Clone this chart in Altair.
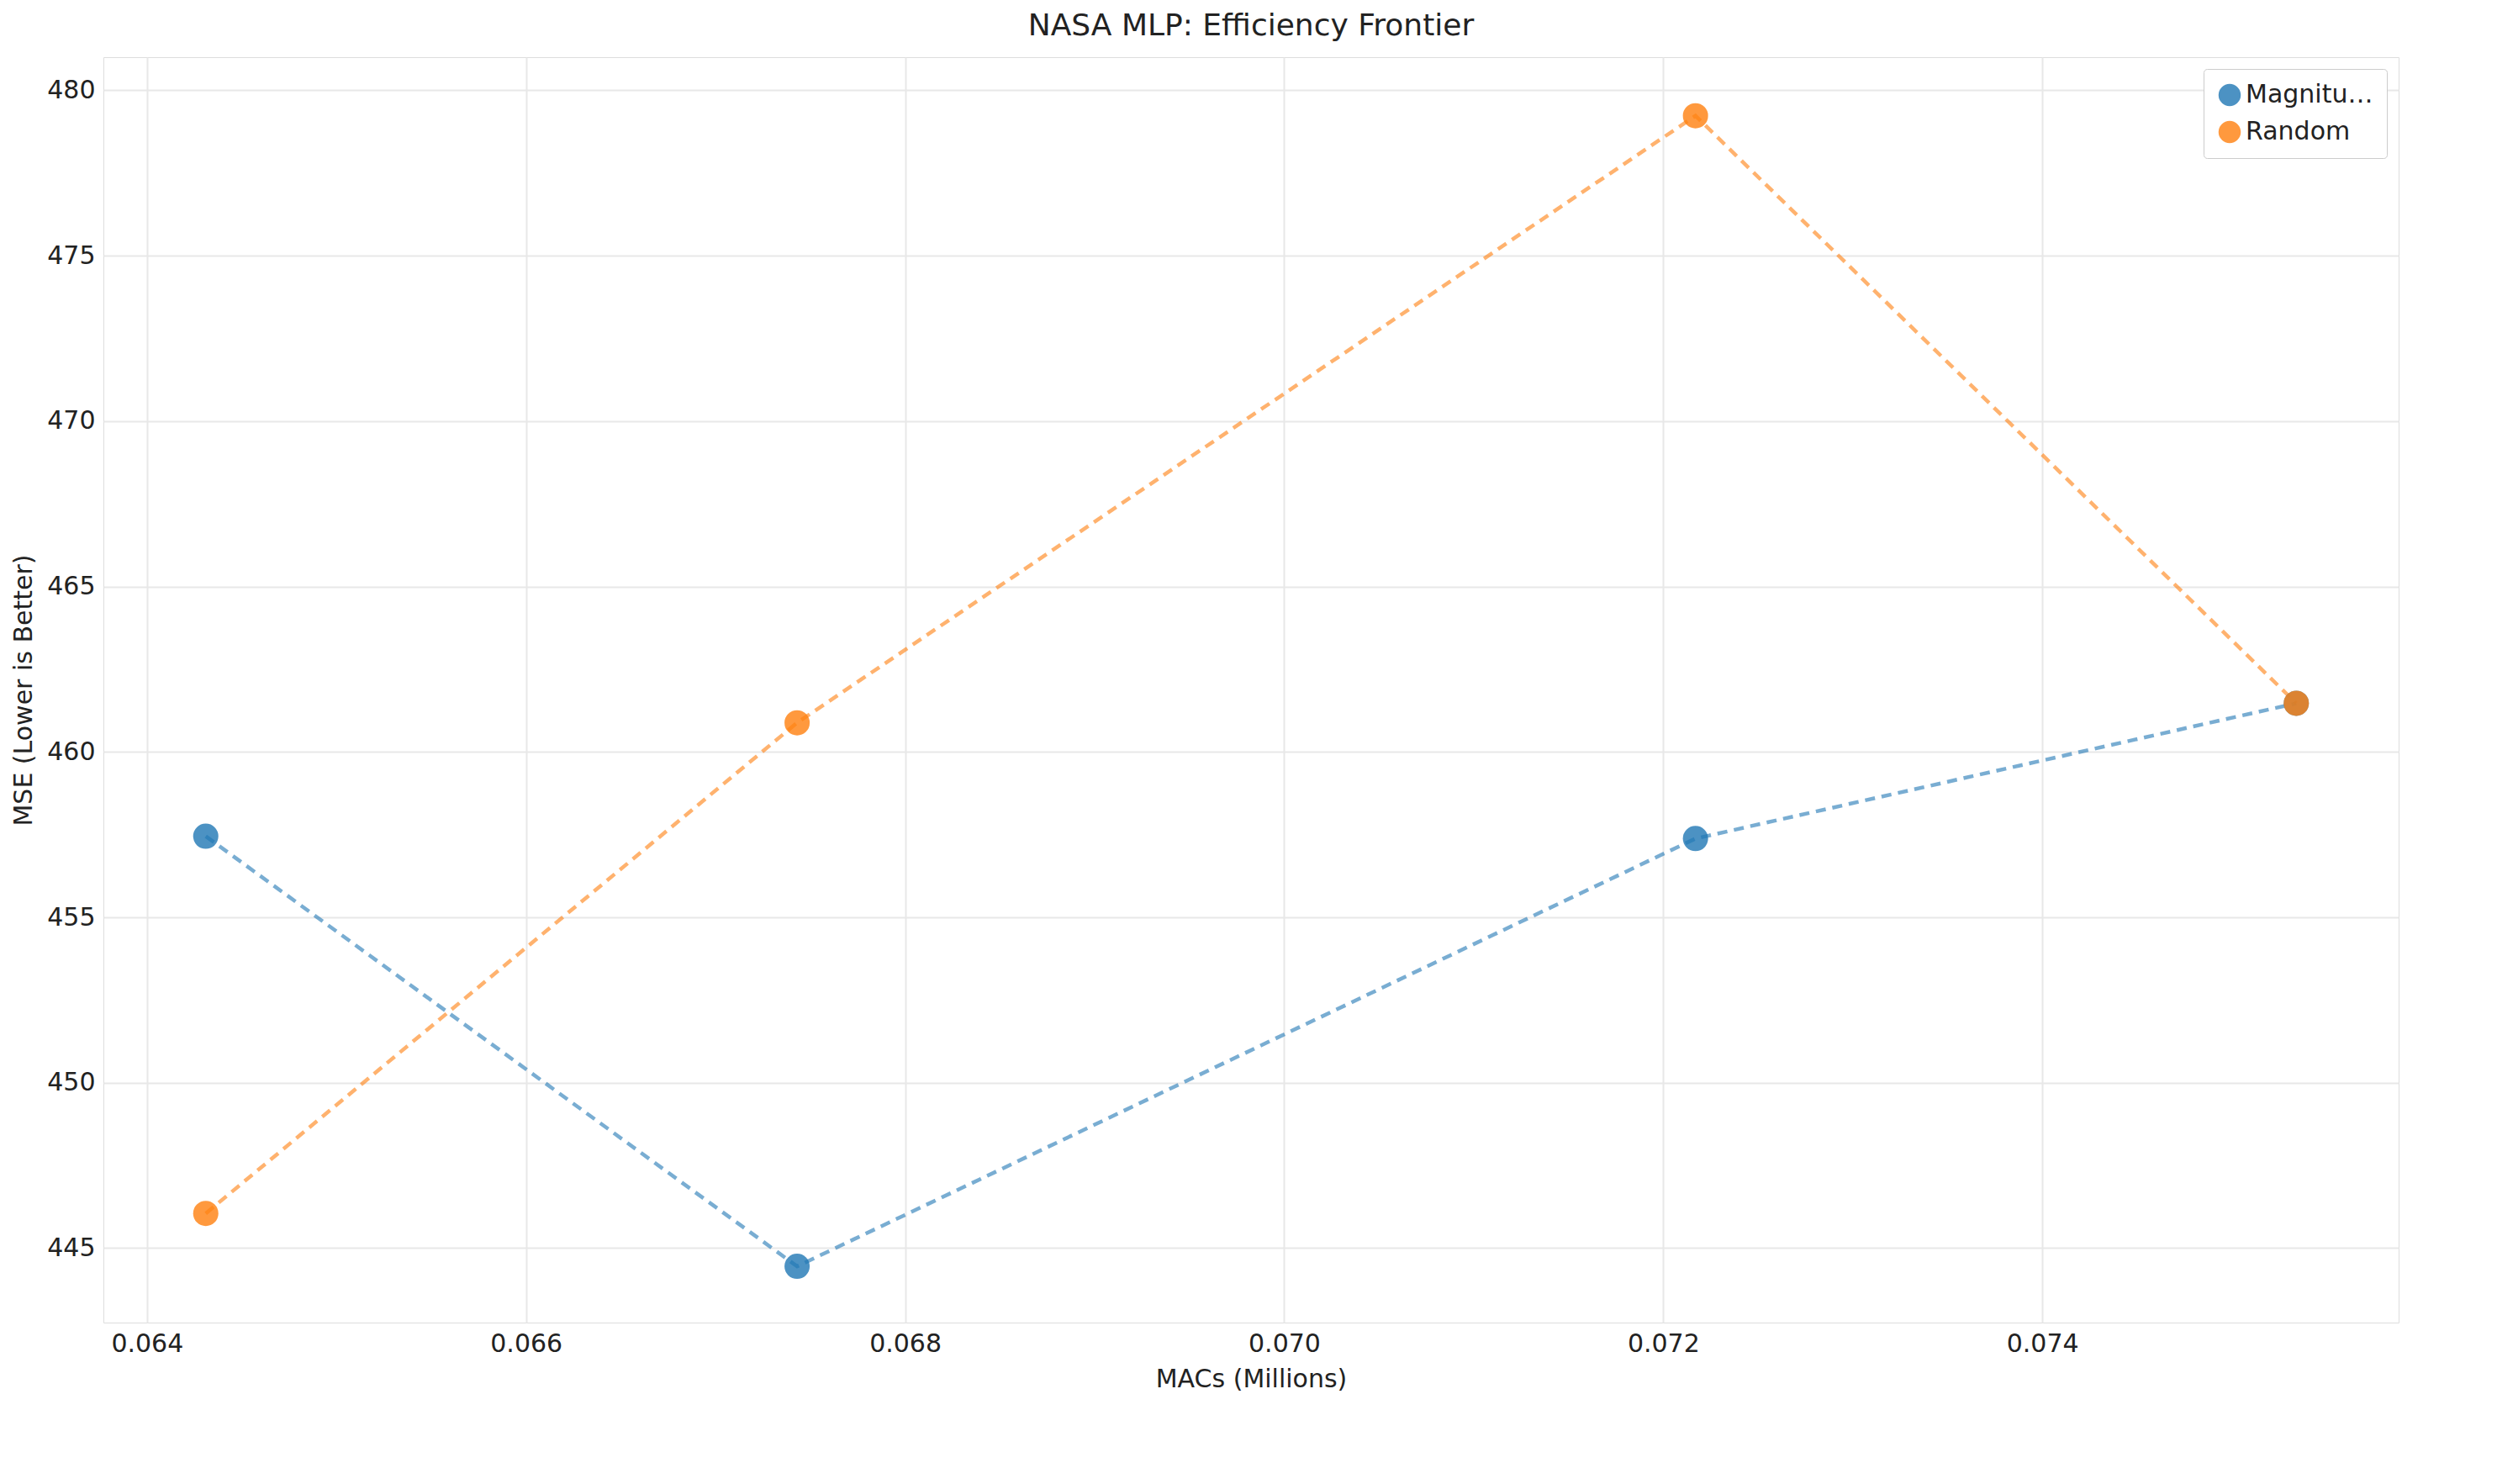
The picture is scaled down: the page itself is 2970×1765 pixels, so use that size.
import altair as alt
import pandas as pd

macs = [0.06431, 0.06743, 0.07217, 0.07534]
mse_l2 = [457.45, 444.45, 457.38, 461.47]
mse_rand = [446.05, 460.88, 479.23, 461.47]
methods = ["MagnitudeL2", "Random"]

rows = []
for m, a, b in zip(macs, mse_l2, mse_rand):
    rows.append({"MACs": m, "MSE": a, "Method": "MagnitudeL2"})
    rows.append({"MACs": m, "MSE": b, "Method": "Random"})
df = pd.DataFrame(rows)

ax = dict(labelFontSize=30, titleFontSize=30, labelFont="DejaVu Sans", titleFont="DejaVu Sans",
          titleFontWeight="normal", gridColor="#e8e8e8", gridWidth=2, domain=False, ticks=False,
          labelColor="#222222", titleColor="#222222", labelPadding=10, titlePadding=12)

scale_c = alt.Scale(domain=methods, range=["#1f77b4", "#ff7f0e"])
color = alt.Color("Method:N", scale=scale_c,
                  legend=alt.Legend(title=None, orient="top-right", symbolSize=700, labelFontSize=30,
                                    symbolOpacity=0.8, symbolType="circle", symbolStrokeWidth=0,
                                    fillColor="white", strokeColor="#cccccc",
                                    padding=16, rowPadding=14, cornerRadius=4, labelFont="DejaVu Sans",
                                    labelColor="#222222", offset=14))
x = alt.X("MACs:Q", title="MACs (Millions)", scale=alt.Scale(domain=[0.06377, 0.07588], nice=False, zero=False),
          axis=alt.Axis(values=[0.064, 0.066, 0.068, 0.070, 0.072, 0.074], format=".3f", **ax))
y = alt.Y("MSE:Q", title="MSE (Lower is Better)", scale=alt.Scale(domain=[442.75, 481.0], nice=False, zero=False),
          axis=alt.Axis(values=[445, 450, 455, 460, 465, 470, 475, 480], **ax))

base = alt.Chart(df)
lines = base.mark_line(strokeDash=[12, 8], strokeWidth=4.5, opacity=0.6).encode(x=x, y=y, color=color)
pts = base.mark_point(filled=True, size=900, opacity=0.8, shape="circle").encode(x=x, y=y, color=color)

chart = (lines + pts).properties(
    width=2730, height=1505,
    title=alt.TitleParams("NASA MLP: Efficiency Frontier", fontSize=36, font="DejaVu Sans", fontWeight="normal", color="#222222", offset=18),
).configure_view(stroke="#cccccc", strokeWidth=2).configure(background="white")

chart.save("out.html", embed_options={"renderer": "svg", "actions": False})
